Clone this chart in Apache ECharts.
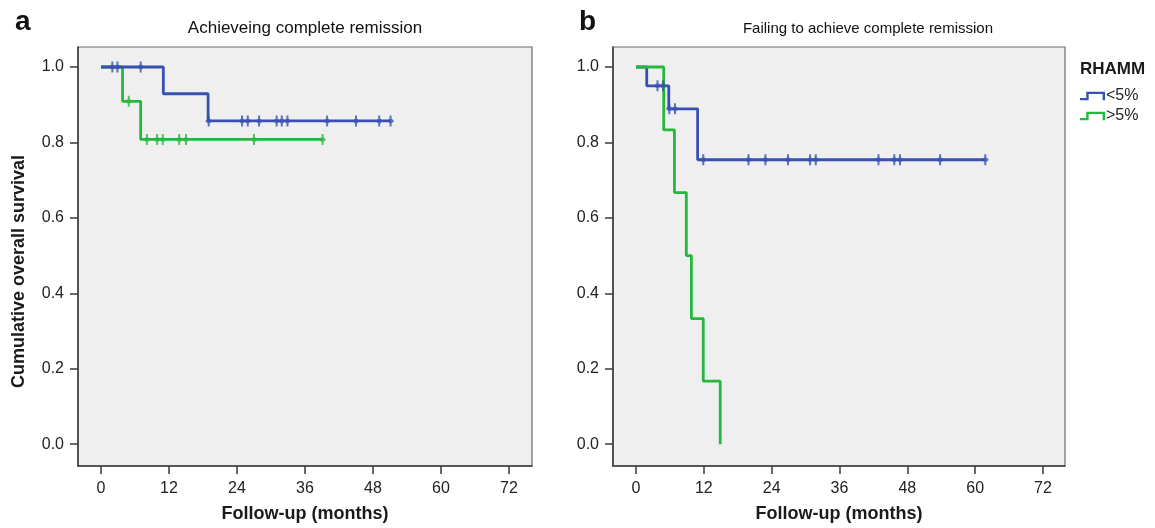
<!DOCTYPE html>
<html>
<head>
<meta charset="utf-8">
<script src="https://cdn.jsdelivr.net/npm/echarts@6/dist/echarts.min.js"></script>
<style>
html,body{margin:0;padding:0;background:#fff;}
#chart{width:1155px;height:528px;}
</style>
</head>
<body>
<div id="chart"></div>
<script>
// ---- Data ----
const xTicks = [0, 12, 24, 36, 48, 60, 72];
const yTicks = [0, 0.2, 0.4, 0.6, 0.8, 1.0];
const groupNames = ['<5%', '>5%'];

// Panel a: achieving complete remission
const aLowTimes = [0, 11.0, 18.9];
const aLowSurv = [1.0, 0.929, 0.857];
const aLowCensor = [2.0, 2.9, 7.0, 19.0, 24.9, 25.9, 27.9, 31.0, 31.9, 32.9, 39.9, 45.0, 49.1, 51.1];

const aHighTimes = [0, 3.8, 7.0];
const aHighSurv = [1.0, 0.909, 0.808];
const aHighCensor = [4.9, 8.1, 9.9, 10.9, 13.8, 15.0, 27.0, 39.1];

// Panel b: failing to achieve complete remission
const bLowTimes = [0, 1.9, 5.8, 10.9];
const bLowSurv = [1.0, 0.95, 0.889, 0.754];
const bLowCensor = [3.8, 4.8, 5.9, 6.9, 11.9, 19.9, 22.9, 26.9, 30.8, 31.8, 42.9, 45.7, 46.7, 53.8, 61.8];

const bHighTimes = [0, 4.9, 6.8, 8.9, 9.8, 11.9, 14.9];
const bHighSurv = [1.0, 0.833, 0.667, 0.5, 0.333, 0.167, 0.0];
const bHighCensor = [];

// ---- Helpers ----
const BLUE = '#3850b0';
const GREEN = '#25b83c';
const FONT = '"Liberation Sans", Arial, sans-serif';

function survAt(times, surv, t) {
  let s = surv[0];
  for (let i = 0; i < times.length; i++) { if (times[i] <= t) s = surv[i]; }
  return s;
}
function curve(times, surv, censor) {
  const pts = times.map((t, i) => [t, surv[i]]);
  if (censor.length) {
    const last = Math.max(...censor);
    if (last > times[times.length - 1]) pts.push([last, survAt(times, surv, last)]);
  }
  return pts;
}
function censorPts(times, surv, censor) {
  return censor.map(t => [t, survAt(times, surv, t)]);
}
const censorSymbol = 'path://M2.5,0L4.5,0L4.5,3L7,5.5L4.5,8L4.5,11L2.5,11L2.5,8L0,5.5L2.5,3Z';
const legendIcon = 'path://M0,6.5L6.5,6.5L6.5,0L26,0L26,9L23.5,9L23.5,2.5L9,2.5L9,9L0,9Z';

function lineSeries(name, idx, color, times, surv, censor, z) {
  return {
    name: name, type: 'line', xAxisIndex: idx, yAxisIndex: idx,
    step: 'end', showSymbol: false, symbol: 'none', z: z,
    data: curve(times, surv, censor),
    lineStyle: { color: color, width: 2.8 }, itemStyle: { color: color },
    animation: false
  };
}
function censorSeries(name, idx, color, times, surv, censor, z) {
  return {
    name: name, type: 'scatter', xAxisIndex: idx, yAxisIndex: idx,
    symbol: censorSymbol, symbolSize: [7, 11], z: z,
    data: censorPts(times, surv, censor),
    itemStyle: { color: color }, animation: false, silent: true
  };
}

function xAxis(gi, xmin, xmax) {
  return {
    type: 'value', gridIndex: gi, min: xmin, max: xmax,
    name: 'Follow-up (months)', nameLocation: 'middle', nameGap: 39,
    nameTextStyle: { fontFamily: FONT, fontWeight: 'bold', fontSize: 18, color: '#1a1a1a' },
    axisLine: { show: true, onZero: false, lineStyle: { color: '#3a3a3a', width: 1.5 } },
    axisTick: { show: true, customValues: xTicks, length: 8, inside: false, lineStyle: { color: '#3a3a3a', width: 1.5 } },
    axisLabel: { customValues: xTicks, margin: 15, fontFamily: FONT, fontSize: 16, color: '#222' },
    splitLine: { show: false }
  };
}
function yAxis(gi, withName) {
  const ax = {
    type: 'value', gridIndex: gi, min: -0.058, max: 1.053,
    axisLine: { show: true, onZero: false, lineStyle: { color: '#3a3a3a', width: 1.5 } },
    axisTick: { show: true, customValues: yTicks, length: 8, lineStyle: { color: '#3a3a3a', width: 1.5 } },
    axisLabel: { customValues: yTicks, margin: 14, fontFamily: FONT, fontSize: 16, color: '#222',
      formatter: v => v.toFixed(1) },
    splitLine: { show: false }
  };
  if (withName) {
    ax.name = 'Cumulative overall survival';
    ax.nameLocation = 'middle';
    ax.nameGap = 50;
    ax.nameTextStyle = { fontFamily: FONT, fontWeight: 'bold', fontSize: 18, color: '#1a1a1a', padding: [0, 30, 0, 0] };
  }
  return ax;
}

const chart = echarts.init(document.getElementById('chart'), null, { renderer: 'canvas' });
chart.setOption({
  backgroundColor: '#ffffff',
  animation: false,
  title: [
    { text: 'a', left: 10, top: 3, textStyle: { fontFamily: FONT, fontWeight: 'bold', fontSize: 28, color: '#111' } },
    { text: 'b', left: 574, top: 3, textStyle: { fontFamily: FONT, fontWeight: 'bold', fontSize: 28, color: '#111' } },
    { text: 'Achieveing complete remission', left: 300, top: 15, textAlign: 'center',
      textStyle: { fontFamily: FONT, fontWeight: 'normal', fontSize: 17, color: '#111' } },
    { text: 'Failing to achieve complete remission', left: 863, top: 16, textAlign: 'center',
      textStyle: { fontFamily: FONT, fontWeight: 'normal', fontSize: 15, color: '#111' } },
    { text: 'RHAMM', left: 1075, top: 56, textStyle: { fontFamily: FONT, fontWeight: 'bold', fontSize: 17, color: '#1a1a1a' } }
  ],
  legend: {
    orient: 'vertical', left: 1075, top: 83, itemWidth: 25, itemHeight: 9, itemGap: 4,
    data: groupNames,
    icon: legendIcon,
    textStyle: { fontFamily: FONT, fontSize: 16, color: '#222', padding: [0, 0, 0, -4] },
    selectedMode: false
  },
  grid: [
    { left: 78, top: 47, width: 454, height: 421, show: true, backgroundColor: '#efefef', borderColor: '#6a6a6a', borderWidth: 1.2 },
    { left: 613, top: 47, width: 452, height: 421, show: true, backgroundColor: '#efefef', borderColor: '#6a6a6a', borderWidth: 1.2 }
  ],
  xAxis: [xAxis(0, -4.06, 76.06), xAxis(1, -4.07, 75.9)],
  yAxis: [yAxis(0, true), yAxis(1, false)],
  series: [
    lineSeries('>5%', 0, GREEN, aHighTimes, aHighSurv, aHighCensor, 2),
    lineSeries('<5%', 0, BLUE, aLowTimes, aLowSurv, aLowCensor, 3),
    censorSeries('>5% censored a', 0, GREEN, aHighTimes, aHighSurv, aHighCensor, 4),
    censorSeries('<5% censored a', 0, BLUE, aLowTimes, aLowSurv, aLowCensor, 5),
    lineSeries('<5%', 1, BLUE, bLowTimes, bLowSurv, bLowCensor, 2),
    lineSeries('>5%', 1, GREEN, bHighTimes, bHighSurv, bHighCensor, 3),
    censorSeries('<5% censored b', 1, BLUE, bLowTimes, bLowSurv, bLowCensor, 5),
    censorSeries('>5% censored b', 1, GREEN, bHighTimes, bHighSurv, bHighCensor, 4)
  ]
});
</script>
</body>
</html>
